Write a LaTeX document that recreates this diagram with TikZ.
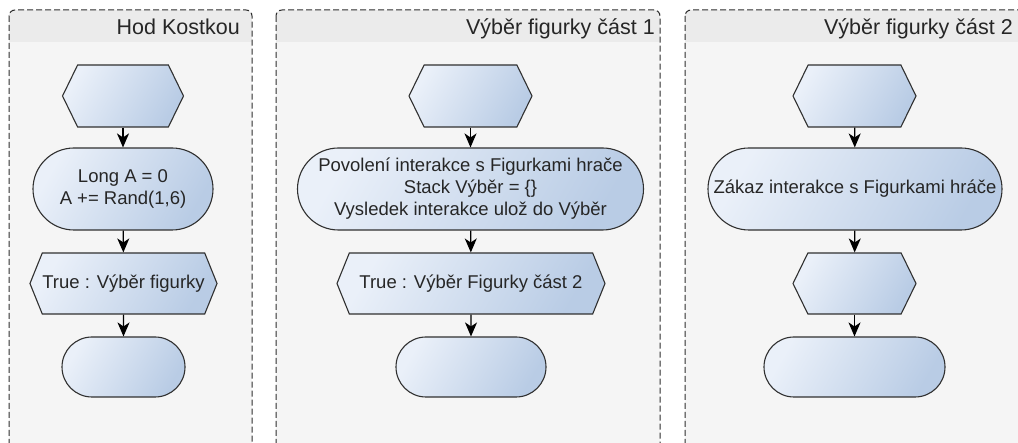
\documentclass[tikz,border=0pt]{standalone}
\usepackage{fontspec}
\setmainfont{Liberation Sans}
\usetikzlibrary{shapes.misc,shapes.symbols,arrows.meta}

\definecolor{panelbody}{HTML}{F5F5F5}
\definecolor{panelhead}{HTML}{EBEBEB}
\definecolor{panelline}{HTML}{2E2E2E}
\definecolor{boxlight}{HTML}{EAF0F9}
\definecolor{boxdark}{HTML}{B9CCE5}
\definecolor{boxline}{HTML}{303030}

\tikzset{
  box/.style={draw=boxline, line width=1.1pt, top color=boxlight, bottom color=boxdark, shading angle=60,
    inner sep=0pt, text=black!85, font=\fontsize{18.5}{22}\selectfont, align=center},
  term/.style={box, rounded rectangle},
  hexa/.style={box, signal, signal to=west and east, signal pointer angle=128},
  flow/.style={line width=1.2pt, -{Stealth[length=14pt,width=12pt,inset=4pt]}},
  frame/.style={draw=panelline, line width=1pt, dash pattern=on 6pt off 3pt, rounded corners=6pt},
  headtext/.style={inner sep=0pt, anchor=base east, text=black!85, font=\fontsize{21.5}{24}\selectfont}
}

\begin{document}
\begin{tikzpicture}[x=1pt, y=-1pt]
\useasboundingbox (0,0) rectangle (1018,443);
\clip (0,0) rectangle (1018,443);
\fill[white] (0,0) rectangle (1018,443);

 % panels
\begin{scope}
  \clip[rounded corners=6pt] (9,10) rectangle (252,470);
  \fill[panelbody] (9,10) rectangle (252,470);
  \fill[panelhead] (9,10) rectangle (252,42);
\end{scope}
\draw[frame] (9,10) rectangle (252,470);
\node[headtext] (head1) at (240,35) {Hod Kostkou};

\begin{scope}
  \clip[rounded corners=6pt] (276,10) rectangle (660,470);
  \fill[panelbody] (276,10) rectangle (660,470);
  \fill[panelhead] (276,10) rectangle (660,42);
\end{scope}
\draw[frame] (276,10) rectangle (660,470);
\node[headtext] (head2) at (655,35) {Výběr figurky část 1};

\begin{scope}
  \clip[rounded corners=6pt] (685,10) rectangle (1040,470);
  \fill[panelbody] (685,10) rectangle (1040,470);
  \fill[panelhead] (685,10) rectangle (1040,42);
\end{scope}
\draw[frame] (685,10) rectangle (1040,470);
\node[headtext] (head3) at (1013,35) {Výběr figurky část 2};

 % Hod Kostkou
\node[hexa, minimum width=121pt, minimum height=62pt] (start1) at (123,96) {};
\node[term, minimum width=180pt, minimum height=82pt] (roll) at (123,189) {Long A = 0\\A += Rand(1,6)};
\node[hexa, signal pointer angle=136, minimum width=183pt, minimum height=61pt] (goto1) at (123.5,283.5) {True : Výběr figurky};
\node[term, minimum width=123pt, minimum height=60pt] (end1) at (123.5,367) {};

\draw[flow] (start1) -- (roll);
\draw[flow] (roll) -- (goto1);
\draw[flow] (goto1) -- (end1);

 % Vyber figurky cast 1
\node[hexa, minimum width=123pt, minimum height=62pt] (start2) at (470.5,96) {};
\node[term, minimum width=346pt, minimum height=82pt] (allow) at (470.5,189) {Povolení interakce s Figurkami hrače\\Stack Výběr = \{\}\\Vysledek interakce ulož do Výběr};
\node[hexa, signal pointer angle=136, minimum width=268pt, minimum height=61pt] (goto2) at (471,283.5) {True : Výběr Figurky část 2};
\node[term, minimum width=150pt, minimum height=60pt] (end2) at (471,367) {};

\draw[flow] (start2) -- (allow);
\draw[flow] (allow) -- (goto2);
\draw[flow] (goto2) -- (end2);

 % Vyber figurky cast 2
\node[hexa, minimum width=123pt, minimum height=62pt] (start3) at (854.5,96) {};
\node[term, minimum width=294pt, minimum height=82pt] (deny) at (855,189) {Zákaz interakce s Figurkami hráče};
\node[hexa, minimum width=123pt, minimum height=61pt] (goto3) at (854.5,283.5) {};
\node[term, minimum width=181pt, minimum height=60pt] (end3) at (854.5,367) {};

\draw[flow] (start3) -- (deny);
\draw[flow] (deny) -- (goto3);
\draw[flow] (goto3) -- (end3);

\end{tikzpicture}
\end{document}
